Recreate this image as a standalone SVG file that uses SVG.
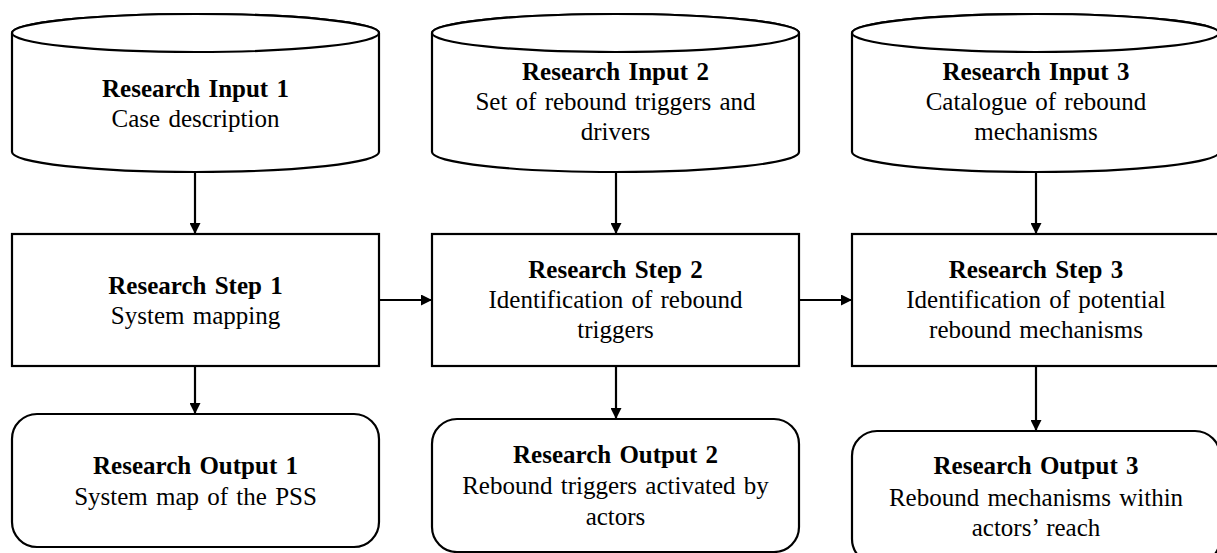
<svg xmlns="http://www.w3.org/2000/svg" width="1217" height="553" viewBox="0 0 1217 553">
<style>
.s{fill:#fff;stroke:#000;stroke-width:2.2}
.c{fill:none;stroke:#000;stroke-width:2.2}
text{font-family:"Liberation Serif","Times New Roman",serif;font-size:25px;fill:#000;text-anchor:middle;word-spacing:2px}
.b{font-weight:bold}
</style>
<defs>
<marker id="ah" viewBox="0 0 10 10" refX="10" refY="5" markerWidth="11" markerHeight="11" markerUnits="userSpaceOnUse" orient="auto">
<path d="M0,0 L10,5 L0,10 Z" fill="#000"/>
</marker>
</defs>
<g id="connectors" class="c">
<line x1="195" y1="172" x2="195" y2="234" marker-end="url(#ah)"/>
<line x1="616" y1="172" x2="616" y2="234" marker-end="url(#ah)"/>
<line x1="1036" y1="172" x2="1036" y2="234" marker-end="url(#ah)"/>
<line x1="195" y1="366" x2="195" y2="414" marker-end="url(#ah)"/>
<line x1="616" y1="366" x2="616" y2="419" marker-end="url(#ah)"/>
<line x1="1036" y1="366" x2="1036" y2="431" marker-end="url(#ah)"/>
<line x1="379" y1="300" x2="432" y2="300" marker-end="url(#ah)"/>
<line x1="799" y1="300" x2="852" y2="300" marker-end="url(#ah)"/>
</g>
<g id="input1">
<path class="s" d="M12,33 L12,152 A183.5,20 0 0 0 379,152 L379,33 A183.5,19 0 0 0 12,33 Z"/>
<ellipse class="s" cx="195.5" cy="33" rx="183.5" ry="19"/>
<text x="195.5" y="97" class="b">Research Input 1</text>
<text x="195.5" y="127">Case description</text>
</g>
<g id="input2">
<path class="s" d="M432,33 L432,152 A183.5,20 0 0 0 799,152 L799,33 A183.5,19 0 0 0 432,33 Z"/>
<ellipse class="s" cx="615.5" cy="33" rx="183.5" ry="19"/>
<text x="615.5" y="80" class="b">Research Input 2</text>
<text x="615.5" y="110">Set of rebound triggers and</text>
<text x="615.5" y="140">drivers</text>
</g>
<g id="input3">
<path class="s" d="M852,33 L852,152 A183.5,20 0 0 0 1219,152 L1219,33 A183.5,19 0 0 0 852,33 Z"/>
<ellipse class="s" cx="1035.5" cy="33" rx="183.5" ry="19"/>
<text x="1036" y="80" class="b">Research Input 3</text>
<text x="1036" y="110">Catalogue of rebound</text>
<text x="1036" y="140">mechanisms</text>
</g>
<g id="step1">
<rect class="s" x="12" y="234" width="367" height="132"/>
<text x="195.5" y="294" class="b">Research Step 1</text>
<text x="195.5" y="324">System mapping</text>
</g>
<g id="step2">
<rect class="s" x="432" y="234" width="367" height="132"/>
<text x="615.5" y="278" class="b">Research Step 2</text>
<text x="615.5" y="308">Identification of rebound</text>
<text x="615.5" y="338">triggers</text>
</g>
<g id="step3">
<rect class="s" x="852" y="234" width="368" height="132"/>
<text x="1036" y="278" class="b">Research Step 3</text>
<text x="1036" y="308">Identification of potential</text>
<text x="1036" y="338">rebound mechanisms</text>
</g>
<g id="output1">
<rect class="s" x="12" y="414" width="367" height="133" rx="25" ry="25"/>
<text x="195.5" y="474" class="b">Research Output 1</text>
<text x="195.5" y="505">System map of the PSS</text>
</g>
<g id="output2">
<rect class="s" x="432" y="419" width="367" height="133" rx="25" ry="25"/>
<text x="615.5" y="463" class="b">Research Output 2</text>
<text x="615.5" y="494">Rebound triggers activated by</text>
<text x="615.5" y="525">actors</text>
</g>
<g id="output3">
<rect class="s" x="852" y="431" width="368" height="133" rx="25" ry="25"/>
<text x="1036" y="474" class="b">Research Output 3</text>
<text x="1036" y="506">Rebound mechanisms within</text>
<text x="1036" y="536">actors’ reach</text>
</g>
</svg>
